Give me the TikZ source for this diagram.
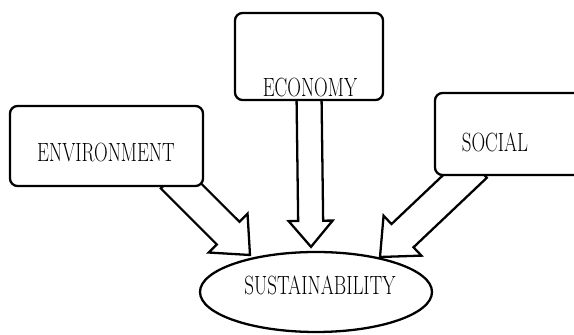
\documentclass[tikz,border=0pt]{standalone}
\usepackage{graphicx}
\usetikzlibrary{shapes.geometric,calc,backgrounds}

% narrow, tall capitals
\newcommand{\slim}[1]{\scalebox{0.72}[1]{#1}}

\tikzset{
  box/.style={draw, line width=1.3pt, rounded corners=1.5mm, fill=white, inner sep=0pt},
  lbl/.style={font=\fontsize{15}{17}\selectfont, inner sep=0pt},
  arrowbody/.style={draw, line width=1.3pt, fill=white},
  % hollow block arrow: shaft half width, head half width, head length
  hollow/.style n args={3}{to path={
      ($(\tikztostart)!#1!90:(\tikztotarget)$)
      -- ($(\tikztotarget)!#3!(\tikztostart)!#1!90:(\tikztotarget)$)
      -- ($(\tikztotarget)!#3!(\tikztostart)!#2!90:(\tikztotarget)$)
      -- (\tikztotarget)
      -- ($(\tikztotarget)!#3!(\tikztostart)!#2!-90:(\tikztotarget)$)
      -- ($(\tikztotarget)!#3!(\tikztostart)!#1!-90:(\tikztotarget)$)
      -- ($(\tikztostart)!#1!-90:(\tikztotarget)$)
      -- cycle}}
}

\begin{document}
\begin{tikzpicture}
        \useasboundingbox (0,0) rectangle (11.48,6.7);
        \node[box, minimum width=3.86cm, minimum height=1.6cm] (env) at (2.13,3.78) {};
        \node[box, minimum width=2.96cm, minimum height=1.74cm] (eco) at (6.18,5.57) {};
        \node[box, minimum width=3.0cm, minimum height=1.64cm] (soc) at (10.2,4.02) {};
        \node[draw, ellipse, line width=1.3pt, fill=white, minimum width=4.64cm, minimum height=1.6cm, inner sep=0pt] (sus) at (6.32,0.86) {};

        \node[lbl] (envtxt) at (2.12,3.64) {\slim{ENVIRONMENT}};
        \node[lbl] (ecotxt) at (6.2,4.94) {\slim{ECONOMY}};
        \node[lbl] (soctxt) at (9.9,3.86) {\slim{SOCIAL}};
        \node[lbl] (sustxt) at (6.4,1.0) {\slim{SUSTAINABILITY}};

        \coordinate (envfoot) at ($(env.south east)+(-0.64,0.2)$);
        \coordinate (ecofoot) at ($(eco.south)+(0,0.15)$);
        \coordinate (socfoot) at ($(soc.south west)+(0.84,0.2)$);
        \coordinate (envtip) at ($(sus.center)+(-1.32,0.74)$);
        \coordinate (ecotip) at ($(sus.north)+(-0.1,0.08)$);
        \coordinate (soctip) at ($(sus.center)+(1.28,0.7)$);

        % arrows go behind the boxes
        \begin{pgfonlayer}{background}
        \draw[arrowbody] (envfoot) to[hollow={0.32cm}{0.55cm}{0.62cm}] (envtip);
        \draw[arrowbody] (ecofoot) to[hollow={0.25cm}{0.44cm}{0.52cm}] (ecotip);
        \draw[arrowbody] (socfoot) to[hollow={0.32cm}{0.55cm}{0.62cm}] (soctip);
        \end{pgfonlayer}
\end{tikzpicture}
\end{document}
